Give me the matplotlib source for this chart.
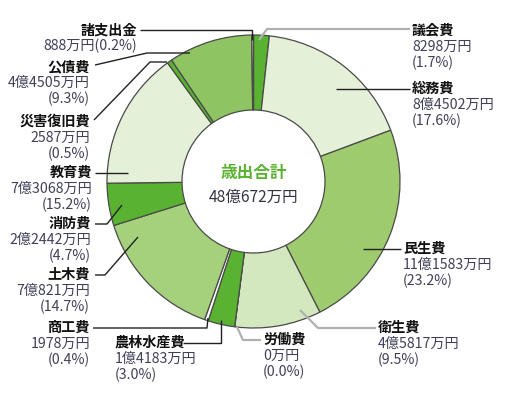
import matplotlib
matplotlib.use("Agg")
import matplotlib.pyplot as plt

plt.rcParams['font.family'] = ['Noto Sans CJK JP', 'DejaVu Sans']

categories = ['議会費', '総務費', '民生費', '衛生費', '労働費', '農林水産費', '商工費',
              '土木費', '消防費', '教育費', '災害復旧費', '公債費', '諸支出金']
values_man = [8298, 84502, 111583, 45817, 0, 14183, 1978, 70821, 22442, 73068, 2587, 44505, 888]
amount_labels = ['8298万円', '8億4502万円', '11億1583万円', '4億5817万円', '0万円', '1億4183万円',
                 '1978万円', '7億821万円', '2億2442万円', '7億3068万円', '2587万円', '4億4505万円', '888万円']
pct_labels = ['(1.7%)', '(17.6%)', '(23.2%)', '(9.5%)', '(0.0%)', '(3.0%)', '(0.4%)',
              '(14.7%)', '(4.7%)', '(15.2%)', '(0.5%)', '(9.3%)', '(0.2%)']
total_title = '歳出合計'
total_label = '48億672万円'

DARK = '#5ab231'
PALE = '#e4f0d8'
colors = [DARK, PALE, '#9dcb6d', '#d4e8c0', '#d4e8c0', DARK, '#ffffff',
          '#a6d17c', DARK, PALE, DARK, '#8ec462', '#ffffff']

W, H = 509, 396
fig = plt.figure(figsize=(W / 100, H / 100), dpi=100)
ax = fig.add_axes([0, 0, 1, 1])

def Y(y):
    return H - y

cx, cy, R, r_in = 253.5, 181.5, 146.5, 71.5
ax.pie(values_man, colors=colors, startangle=90, counterclock=False,
       center=(cx, Y(cy)), radius=R, frame=True,
       wedgeprops=dict(width=R - r_in, edgecolor='#4a4a4a', linewidth=0.9))
ax.set_xlim(0, W)
ax.set_ylim(0, H)
ax.set_aspect('equal')
ax.axis('off')

ax.text(cx, Y(173), total_title, ha='center', va='center', fontsize=12,
        fontweight='bold', color=DARK)
ax.text(cx, Y(197), total_label, ha='center', va='center', fontsize=11.2, color='#333344')

VAL_COLOR = '#404058'
FS = 10.2
LS = 15.8
GRAY = '#b0b0b0'

layout = {
    '議会費':     (412, 31, 'left', [(410, 29), (267, 29), (259, 40)], GRAY, False),
    '総務費':     (412, 89, 'left', [(410, 89), (336, 89)], '#222222', False),
    '民生費':     (403, 249, 'left', [(401, 249), (363, 249)], '#222222', False),
    '衛生費':     (378, 328, 'left', [(376, 328), (318, 328), (300, 310)], GRAY, False),
    '労働費':     (263, 340, 'left', [(261, 340), (243, 340), (237, 327)], GRAY, False),
    '農林水産費': (115, 343, 'left', [(183, 343), (221, 343), (221, 320)], '#222222', False),
    '商工費':     (90, 328, 'right', [(93, 328), (207, 328), (208, 318)], '#222222', False),
    '土木費':     (90, 275, 'right', [(95, 275), (105, 275), (138, 237)], '#222222', False),
    '消防費':     (91, 224, 'right', [(95, 224), (107, 224), (122, 205)], '#222222', False),
    '教育費':     (92, 173, 'right', [(95, 173), (128, 173)], '#222222', False),
    '災害復旧費': (90, 122, 'right', [(94, 120), (150, 62), (167, 62)], '#222222', False),
    '公債費':     (90, 67, 'right', [(95, 65), (147, 53), (190, 53)], '#222222', False),
    '諸支出金':   (137, 31, 'right', [(140, 30), (252, 30), (252, 40)], '#222222', True),
}

for i, cat in enumerate(categories):
    x, y, ha, pts, lc, combined = layout[cat]
    ax.text(x, Y(y), cat, ha=ha, va='center', fontsize=FS, fontweight='bold', color='#111111')
    if combined:
        ax.text(x, Y(y + LS - 1), amount_labels[i] + pct_labels[i], ha=ha, va='center',
                fontsize=FS, color=VAL_COLOR)
    else:
        ax.text(x, Y(y + LS), amount_labels[i], ha=ha, va='center', fontsize=FS, color=VAL_COLOR)
        ax.text(x, Y(y + 2 * LS), pct_labels[i], ha=ha, va='center', fontsize=FS, color=VAL_COLOR)
    xs = [p[0] for p in pts]
    ys = [Y(p[1]) for p in pts]
    ax.plot(xs, ys, color=lc, linewidth=1.0 if lc != GRAY else 1.6, solid_capstyle='butt')

fig.savefig('out.png', dpi=100, facecolor='white')
